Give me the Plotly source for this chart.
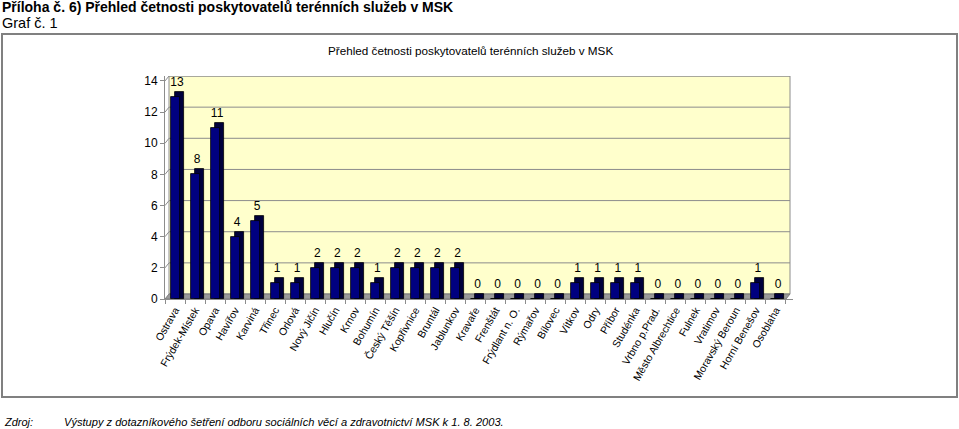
import plotly.graph_objects as go

# Četnost poskytovatelů terénních služeb podle obcí (MSK, 1. 8. 2003)
mista = ["Ostrava", "Frýdek-Místek", "Opava", "Havířov", "Karviná", "Třinec", "Orlová",
         "Nový Jičín", "Hlučín", "Krnov", "Bohumín", "Český Těšín", "Kopřivnice", "Bruntál",
         "Jablunkov", "Kravaře", "Frenštát", "Frýdlant n. O.", "Rýmařov", "Bílovec", "Vítkov",
         "Odry", "Příbor", "Studénka", "Vrbno p.Prad.", "Město Albrechtice", "Fulnek",
         "Vratimov", "Moravský Beroun", "Horní Benešov", "Osoblaha"]
pocet = [13, 8, 11, 4, 5, 1, 1, 2, 2, 2, 1, 2, 2, 2, 2, 0, 0, 0, 0, 0, 1, 1, 1, 1,
         0, 0, 0, 0, 0, 1, 0]
y_ticks = [0, 2, 4, 6, 8, 10, 12, 14]

FONT = "Liberation Sans, Arial, sans-serif"
W, H = 959, 429

# pseudo-3D depth in axis units
dx = 0.2
dy = 0.32
n = len(mista)
x_pos = list(range(n))
x_lo, x_hi = -0.5, n - 0.5
y_top = max(y_ticks) + dy

fig = go.Figure()

# depth (side + top) of each column, drawn behind the front face
fig.add_trace(go.Bar(
    x=x_pos, y=[v + dy for v in pocet], base=0,
    width=0.45, offset=-0.225 + dx,
    marker=dict(color="#00003C", line=dict(color="#000000", width=0.8)),
    showlegend=False, hoverinfo="skip",
))
# front face
fig.add_trace(go.Bar(
    x=x_pos, y=pocet, base=0,
    width=0.45, offset=-0.225,
    marker=dict(color="#000080", line=dict(color="#000000", width=0.8)),
    showlegend=False,
))
# value labels
fig.add_trace(go.Scatter(
    x=[i + dx / 2 for i in x_pos], y=[v + 0.9 for v in pocet],
    mode="text", text=[str(v) for v in pocet], textposition="middle center",
    textfont=dict(family=FONT, size=12, color="#000000"),
    cliponaxis=False, showlegend=False, hoverinfo="skip",
))

shapes = []
# back wall
shapes.append(dict(type="rect", xref="x", yref="y", layer="below",
                   x0=x_lo + dx, x1=x_hi + dx, y0=dy, y1=y_top,
                   fillcolor="#FFFFCC", line=dict(color="#8C8C8C", width=1)))
# gridlines on the back wall, with the diagonal from the axis
for t in y_ticks[1:]:
    shapes.append(dict(type="path", xref="x", yref="y", layer="below",
                       path=f"M {x_lo},{t} L {x_lo + dx},{t + dy} L {x_hi + dx},{t + dy}",
                       line=dict(color="#8C8C8C", width=1)))
# floor
shapes.append(dict(type="path", xref="x", yref="y", layer="below",
                   path=f"M {x_lo},0 L {x_hi},0 L {x_hi + dx},{dy} L {x_lo + dx},{dy} Z",
                   fillcolor="#9A9A9A", line=dict(color="#7A7A7A", width=1)))
# chart frame
shapes.append(dict(type="rect", xref="paper", yref="paper", layer="below",
                   x0=2 / W, x1=957 / W, y0=1 - 397 / H, y1=1 - 34 / H,
                   fillcolor="rgba(0,0,0,0)", line=dict(color="#808080", width=2)))

annotations = [
    dict(text="<b>Příloha č. 6) Přehled četnosti poskytovatelů terénních služeb v MSK</b>",
         x=0, y=1 - 7 / H, xref="paper", yref="paper", xanchor="left", yanchor="middle",
         showarrow=False, font=dict(family=FONT, size=14, color="#000000")),
    dict(text="Graf č. 1", x=0, y=1 - 23 / H, xref="paper", yref="paper",
         xanchor="left", yanchor="middle", showarrow=False,
         font=dict(family=FONT, size=14.5, color="#000000")),
    dict(text="Přehled četnosti poskytovatelů terénních služeb v MSK",
         x=470 / W, y=1 - 50 / H, xref="paper", yref="paper", xanchor="center",
         yanchor="middle", showarrow=False, font=dict(family=FONT, size=11.7, color="#000000")),
    dict(text="<i>Zdroj:</i>", x=2 / W, y=1 - 422 / H, xref="paper", yref="paper",
         xanchor="left", yanchor="middle", showarrow=False,
         font=dict(family=FONT, size=11, color="#000000")),
    dict(text="<i>Výstupy z dotazníkového šetření odboru sociálních věcí a zdravotnictví MSK k 1. 8. 2003.</i>",
         x=62 / W, y=1 - 422 / H, xref="paper", yref="paper", xanchor="left",
         yanchor="middle", showarrow=False, font=dict(family=FONT, size=11.1, color="#000000")),
]

fig.update_layout(
    width=W, height=H,
    margin=dict(l=0, r=0, t=0, b=0, autoexpand=False),
    paper_bgcolor="#FFFFFF",
    plot_bgcolor="rgba(0,0,0,0)",
    barmode="overlay",
    bargap=0,
    font=dict(family=FONT, color="#000000"),
    shapes=shapes,
    annotations=annotations,
)

fig.update_xaxes(
    domain=[165 / W, 793 / W],
    range=[x_lo, x_hi + dx + 0.15],
    automargin=False,
    tickmode="array", tickvals=x_pos, ticktext=mista,
    tickangle=-60, tickfont=dict(family=FONT, size=10.5),
    ticks="", showgrid=False, zeroline=False,
    showline=True, linecolor="#8C8C8C", linewidth=1,
    minor=dict(tickmode="linear", tick0=-0.5, dtick=1, ticks="outside",
               ticklen=4, tickcolor="#8C8C8C", showgrid=False),
    fixedrange=True,
)
fig.update_yaxes(
    domain=[1 - 299 / H, 1 - 76 / H],
    range=[0, y_top],
    automargin=False,
    tickmode="array", tickvals=y_ticks,
    tickfont=dict(family=FONT, size=12),
    ticks="outside", ticklen=4, tickcolor="#8C8C8C",
    showgrid=False, zeroline=False,
    showline=True, linecolor="#8C8C8C", linewidth=1,
    fixedrange=True,
)

# page without the default body margin, so the figure fills the window
fig.write_html("out.html", config={"displayModeBar": False},
               post_script="document.body.style.margin='0';document.body.style.overflow='hidden';")
